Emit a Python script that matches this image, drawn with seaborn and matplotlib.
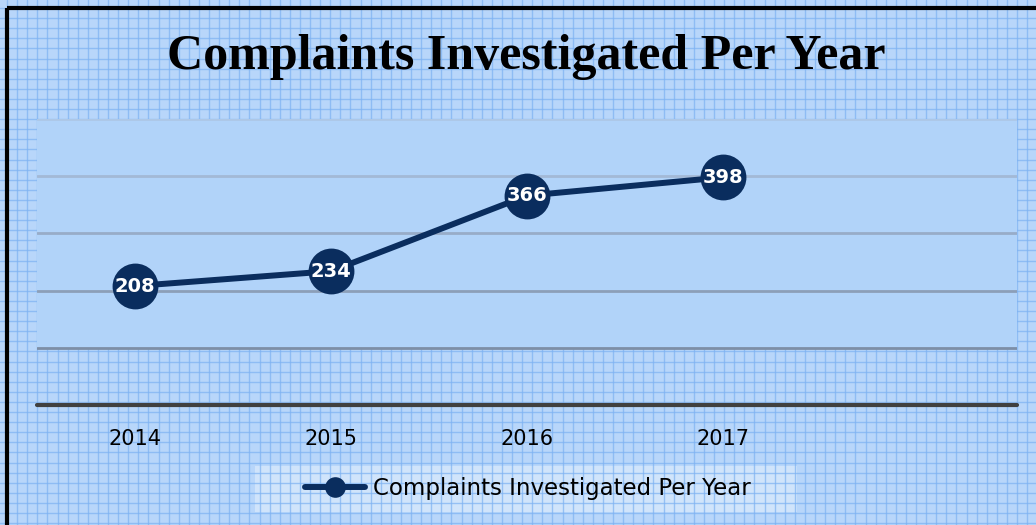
# Complaints investigated per year - line chart on graph-paper background

import numpy as np
import pandas as pd
import seaborn as sb
from matplotlib import pyplot as plt
from matplotlib.patches import Rectangle

YEARS = ["2014", "2015", "2016", "2017"]
COMPLAINTS = [208, 234, 366, 398]
SERIES_NAME = "Complaints Investigated Per Year"
TITLE = "Complaints Investigated Per Year"
GRID_VALUES = [100, 200, 300, 400, 500]

NAVY = "#0a2d5e"
PAPER = "#b8d6fa"
PAPER_LINE = "#7db2f2"
BAND = "#b1d3f9"
GRID_COLORS = ["#7d8ea6", "#8c9fb8", "#98acc8", "#a3b9d6", "#adc7e6"]

W, H = 1036, 525
sb.set_theme(style="white")
plt.rcParams['font.family'] = ['DejaVu Sans']
plt.rcParams['text.color'] = 'black'

df = pd.DataFrame({"year": YEARS, "count": COMPLAINTS, "series": SERIES_NAME})

fig = plt.figure(figsize=(W / 100, H / 100), dpi=100)
fig.patch.set_facecolor(PAPER)

# graph paper background
bg = fig.add_axes([0, 0, 1, 1], zorder=0)
bg.set_xlim(0, W)
bg.set_ylim(H, 0)
bg.axis("off")
for gx in np.arange(7, W, 10.1):
    bg.axvline(gx, color=PAPER_LINE, lw=1, alpha=0.7)
for gy in np.arange(8, H, 10.1):
    bg.axhline(gy, color=PAPER_LINE, lw=1, alpha=0.7)
bg.plot([7, W], [8, 8], color="black", lw=3, solid_capstyle="butt")
bg.plot([7, 7], [8, H], color="black", lw=3, solid_capstyle="butt")
# legend backdrop
bg.add_patch(Rectangle((255, 466), 542, 46, facecolor="white", alpha=0.35, lw=0))

# plot area
left, right = 37 / W, 1017 / W
bottom, top = 1 - 405 / H, 1 - 119 / H
ax = fig.add_axes([left, bottom, right - left, top - bottom], zorder=1)
ax.patch.set_alpha(0)
ax.set_ylim(0, 500)
ax.set_xlim(-0.5, 4.5)

ax.axhspan(GRID_VALUES[0], GRID_VALUES[-1], color=BAND, lw=0, zorder=0)
for v, c in zip(GRID_VALUES, GRID_COLORS):
    ax.axhline(v, color=c, lw=2, zorder=1)
ax.axhline(0, color="#404040", lw=3, zorder=2, clip_on=False)

sb.lineplot(data=df, x="year", y="count", hue="series", palette=[NAVY],
            marker="o", markersize=33, linewidth=4.3, markeredgewidth=0,
            ax=ax, zorder=3, sort=False)

for i, v in enumerate(COMPLAINTS):
    ax.text(i, v, str(v), ha="center", va="center", color="white",
            fontsize=14, fontweight="bold", zorder=4)

for s in ax.spines.values():
    s.set_visible(False)
ax.set_yticks([])
ax.set_xticks(range(len(YEARS)))
ax.set_xticklabels(YEARS, fontsize=15, color="black")
ax.tick_params(axis="x", length=0, pad=17)
ax.set_xlabel("")
ax.set_ylabel("")

leg = ax.legend(loc="center", bbox_to_anchor=(528 / W, 1 - 489 / H),
                bbox_transform=fig.transFigure, frameon=False, fontsize=16.5,
                handlelength=2.6, handletextpad=0.35, borderpad=0,
                borderaxespad=0, markerscale=0.45)
for t in leg.get_texts():
    t.set_color("black")
for h in leg.legend_handles:
    h.set_linewidth(4.3)

fig.text(526 / W, 1 - 57 / H, TITLE, ha="center", va="center", color="black",
         fontsize=36, fontweight="bold", family=["Liberation Serif"])

plt.savefig("out.png", dpi=100)
